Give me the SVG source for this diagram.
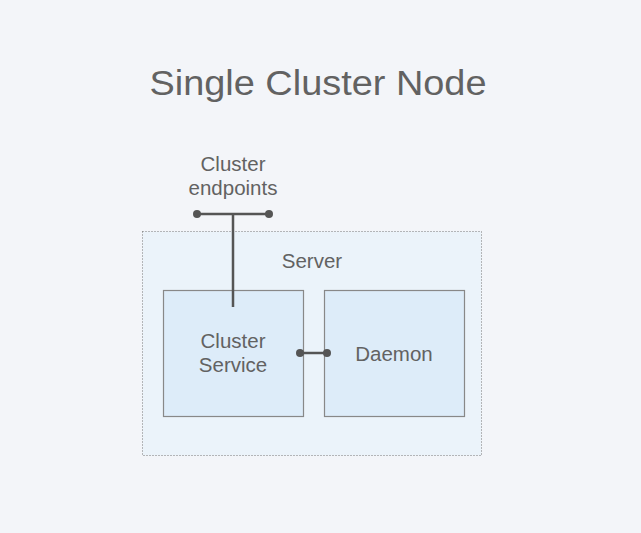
<svg xmlns="http://www.w3.org/2000/svg" width="641" height="533" viewBox="0 0 641 533">
<style>
text{font-family:"Liberation Sans",Arial,sans-serif;fill:#626262;text-anchor:middle}
.lbl{font-size:20.5px}
.box{fill:#ddecf9;stroke:#888;stroke-width:1.2}
.ln{stroke:#555;stroke-width:2.5;fill:none}
.dot{fill:#555}
</style>
<rect width="641" height="533" fill="#f3f5f9"/>
<text x="318" y="95" font-size="35" textLength="337" lengthAdjust="spacingAndGlyphs">Single Cluster Node</text>
<g id="server">
<rect x="142.5" y="231.5" width="339" height="224" fill="#ebf3fa" stroke="#777" stroke-width="1" stroke-dasharray="1,2"/>
<text class="lbl" x="312" y="268">Server</text>
</g>
<g id="endpoints">
<text class="lbl" x="233" y="171">Cluster</text>
<text class="lbl" x="233" y="195">endpoints</text>
</g>
<g id="cluster-service">
<rect class="box" x="163.5" y="290.5" width="140" height="126"/>
<text class="lbl" x="233" y="348">Cluster</text>
<text class="lbl" x="233" y="372">Service</text>
</g>
<g id="daemon">
<rect class="box" x="324.5" y="290.5" width="140" height="126"/>
<text class="lbl" x="394" y="361">Daemon</text>
</g>
<g id="connectors">
<path class="ln" d="M197 214H269M233 214V307"/>
<circle class="dot" cx="197" cy="214" r="4"/>
<circle class="dot" cx="269" cy="214" r="4"/>
<path class="ln" d="M300 353H327"/>
<circle class="dot" cx="300" cy="353" r="4"/>
<circle class="dot" cx="327" cy="353" r="4"/>
</g>
</svg>
